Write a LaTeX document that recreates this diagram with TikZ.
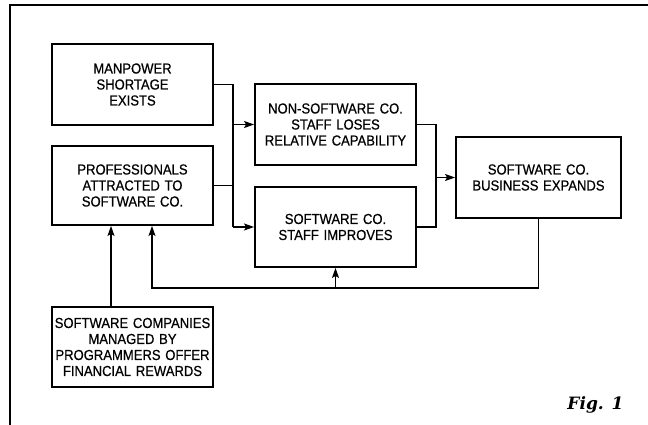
\documentclass[tikz,border=0pt]{standalone}
\usepackage{fontspec}
\setmainfont[FakeStretch=0.9,WordSpace=1.3,FakeBold=0.6]{Liberation Sans}
\newfontfamily\figfont{DejaVu Serif}
\usetikzlibrary{arrows.meta}
\begin{document}
\begin{tikzpicture}[x=1pt,y=-1pt,
  box/.style={draw,line width=1.9pt,align=center,inner sep=0pt,
    font=\fontsize{14.5}{16}\selectfont},
  conn/.style={line width=1.1pt},
  arr/.style={conn,-{Stealth[length=10pt,width=7pt,inset=2pt]}}]
\useasboundingbox (0,0) rectangle (648,425);
% frame
\draw[line width=1.4pt] (10,425) -- (10,5) -- (648,5);
% boxes
\node[box,minimum width=161pt,minimum height=81pt] (B1) at (132.5,84.5) {MANPOWER\\SHORTAGE\\EXISTS};
\node[box,minimum width=161pt,minimum height=79pt] (B2) at (132.5,185.5) {PROFESSIONALS\\ATTRACTED TO\\SOFTWARE CO.};
\node[box,minimum width=161pt,minimum height=81pt] (B3) at (335.5,124.5) {NON-SOFTWARE CO.\\STAFF LOSES\\RELATIVE CAPABILITY};
\node[box,minimum width=161pt,minimum height=80pt] (B4) at (335.5,227) {SOFTWARE CO.\\STAFF IMPROVES};
\node[box,minimum width=165pt,minimum height=81pt] (B5) at (538.5,177.5) {SOFTWARE CO.\\BUSINESS EXPANDS};
\node[box,minimum width=161pt,minimum height=80pt] (B6) at (132.5,347) {SOFTWARE COMPANIES\\MANAGED BY\\PROGRAMMERS OFFER\\FINANCIAL REWARDS};
% junction coordinates
\coordinate (jl) at (233,0);
\coordinate (jr) at (436,0);
\coordinate (f1) at (538.5,288);
\coordinate (f2) at (152,288);
\coordinate (c6) at (111,307);
% left junction
\draw[conn] (B1.east) -- (B1.east -| jl) -- (B4.west -| jl);
\draw[conn] (B2.east) -- (B2.east -| jl);
\draw[arr] (B3.west -| jl) -- (B3.west);
\draw[arr] (B4.west -| jl) -- (B4.west);
% right junction
\draw[conn] (B3.east) -- (B3.east -| jr) -- (B4.east -| jr) -- (B4.east);
\draw[arr] (B5.west -| jr) -- (B5.west);
% feedback
\draw[arr] (B5.south) -- (f1) -- (f2) -- (f2 |- B2.south);
\draw[arr] (B4.south |- f1) -- (B4.south);
% rewards
\draw[arr] (B6.north -| c6) -- (c6 |- B2.south);
% caption
\node[anchor=base,font=\figfont\bfseries\itshape\fontsize{17}{18}\selectfont] (fig) at (595.5,409) {Fig. 1};
\end{tikzpicture}
\end{document}
